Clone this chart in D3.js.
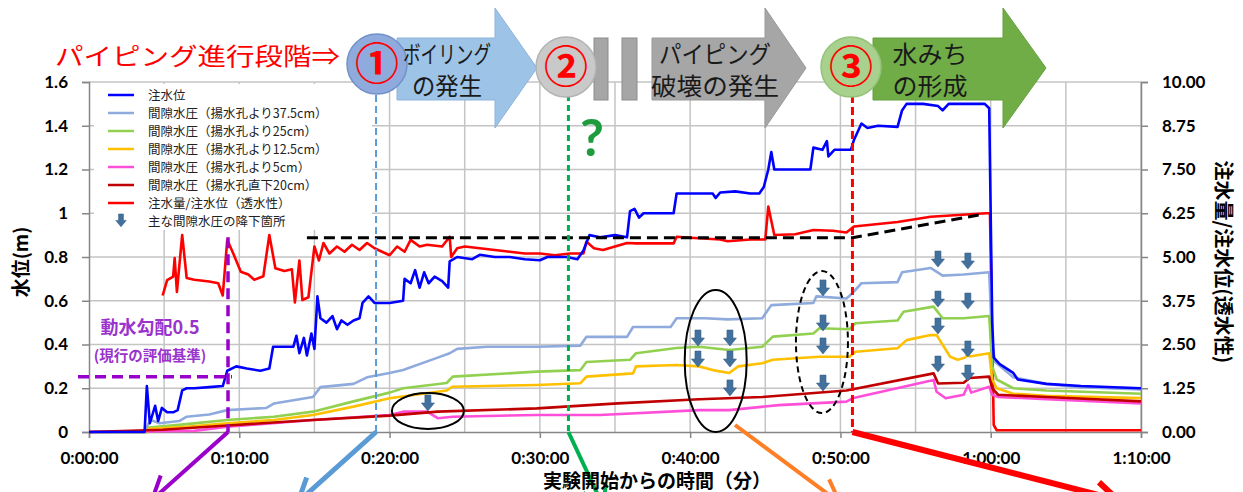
<!DOCTYPE html>
<html><head><meta charset="utf-8">
<script src="https://cdn.jsdelivr.net/npm/d3@7"></script>
<style>
body{margin:0;background:#fff;}
svg{display:block;}
.jp{font-family:"Noto Sans CJK JP","Noto Sans",sans-serif;}
.num{font-family:Lato,"Liberation Sans",sans-serif;font-weight:bold;}
</style></head>
<body><svg id="c" width="1243" height="492"></svg>
<script>
// ---- data (time in minutes, left axis values in m, red series on right axis) ----
const xTicks = [0,10,20,30,40,50,60,70];
const yLeftTicks = [0,0.2,0.4,0.6,0.8,1,1.2,1.4,1.6];
const yRightTicks = [0,1.25,2.5,3.75,5,6.25,7.5,8.75,10];

const legendLabels = ["注水位","間隙水圧（揚水孔より37.5cm）","間隙水圧（揚水孔より25cm）","間隙水圧（揚水孔より12.5cm）","間隙水圧（揚水孔より5cm）","間隙水圧（揚水孔直下20cm）","注水量/注水位（透水性）","主な間隙水圧の降下箇所"];
const seriesColors = ["#0000ff","#8faadc","#92d050","#ffc000","#ff4fd8","#c00000","#ff0000"];

const waterLevel = [[0,0],[3.7,0],[3.85,0.21],[4.05,0.04],[4.4,0.12],[4.6,0.05],[4.85,0.11],[5.2,0.09],[5.6,0.09],[5.9,0.1],[6.2,0.19],[6.5,0.2],[7,0.2],[8,0.205],[8.9,0.21],[9.2,0.28],[9.8,0.3],[10.5,0.29],[11.4,0.28],[12.0,0.29],[12.25,0.39],[13.0,0.39],[13.6,0.39],[13.8,0.44],[14.0,0.36],[14.3,0.43],[14.5,0.35],[14.8,0.45],[15.0,0.38],[15.2,0.62],[15.4,0.52],[15.8,0.5],[16.2,0.53],[16.5,0.47],[16.8,0.51],[17.2,0.49],[17.6,0.51],[18.0,0.52],[18.2,0.59],[18.6,0.62],[19.0,0.59],[20.0,0.59],[20.9,0.6],[21.0,0.7],[21.4,0.68],[21.7,0.74],[22.0,0.66],[22.3,0.73],[22.6,0.68],[23.0,0.71],[23.5,0.69],[23.9,0.66],[24.0,0.78],[24.5,0.8],[25.5,0.79],[26,0.81],[27,0.8],[28,0.8],[29,0.79],[30,0.785],[30.5,0.8],[31.8,0.8],[32.5,0.79],[32.9,0.83],[33.3,0.9],[34,0.89],[35,0.9],[35.8,0.89],[36.0,1.01],[36.3,1.02],[36.6,0.98],[36.9,1.0],[38,1.0],[38.9,1.0],[39.1,1.09],[40,1.09],[41.5,1.09],[41.7,1.07],[42,1.095],[43,1.1],[44,1.09],[44.6,1.09],[44.9,1.12],[45.2,1.2],[45.4,1.28],[45.6,1.2],[46.5,1.2],[48.0,1.2],[48.2,1.3],[48.8,1.29],[49.1,1.33],[49.2,1.26],[49.6,1.29],[50.7,1.29],[50.9,1.335],[51.4,1.41],[51.8,1.39],[52.5,1.4],[53.8,1.395],[54.1,1.47],[54.4,1.5],[55.5,1.5],[56.5,1.49],[56.8,1.47],[57.2,1.5],[58.5,1.5],[59.6,1.5],[59.9,1.48],[60.1,0.5],[60.2,0.34],[60.6,0.31],[61.5,0.27],[61.8,0.24],[63.7,0.22],[66,0.21],[70,0.2]];
const pore375 = [[0,0],[3.8,0],[3.9,0.03],[4.1,0.055],[4.7,0.04],[6.0,0.05],[6.5,0.07],[8,0.08],[9.2,0.1],[11.8,0.11],[12.3,0.13],[14.9,0.16],[15.4,0.205],[17.6,0.22],[18.5,0.25],[20,0.27],[20.9,0.283],[23.2,0.34],[24,0.36],[24.5,0.38],[26.5,0.39],[29.8,0.39],[32.7,0.395],[33.1,0.435],[35.8,0.435],[36.2,0.48],[38.7,0.48],[39.1,0.52],[41,0.52],[42.5,0.515],[44.8,0.52],[45.4,0.58],[48.2,0.59],[48.4,0.62],[50.4,0.61],[50.8,0.635],[51.4,0.68],[53.8,0.685],[54.1,0.73],[56,0.75],[56.8,0.715],[58.2,0.72],[59.9,0.73],[60.1,0.4],[60.3,0.32],[61.5,0.25],[63.7,0.22],[66,0.205],[70,0.195]];
const pore25 = [[0,0],[3.9,0],[4.0,0.02],[6.5,0.036],[9.2,0.055],[12.3,0.07],[14.9,0.093],[17.6,0.14],[20,0.18],[20.9,0.2],[23.8,0.224],[24.2,0.253],[29.8,0.276],[32.7,0.283],[33.1,0.32],[36,0.33],[36.4,0.36],[39.1,0.384],[40.6,0.39],[42.6,0.375],[44.8,0.39],[45.5,0.436],[48.2,0.45],[48.6,0.474],[50.6,0.47],[51,0.497],[53.8,0.51],[54.2,0.55],[56.2,0.573],[56.8,0.52],[58.2,0.52],[59.9,0.53],[60.1,0.3],[60.4,0.24],[61.5,0.2],[63.7,0.19],[70,0.175]];
const pore125 = [[0,0],[3.9,0],[4.0,0.015],[6.5,0.024],[9.2,0.04],[12.3,0.055],[14.9,0.078],[17.6,0.116],[20,0.154],[23.8,0.19],[24.2,0.207],[29.8,0.215],[32.7,0.223],[33.1,0.253],[36.2,0.268],[36.4,0.3],[39.1,0.306],[40.6,0.3],[41.5,0.283],[42.6,0.27],[43.2,0.3],[44.8,0.314],[45.5,0.33],[48.6,0.344],[50.6,0.344],[51,0.367],[53.8,0.383],[54.4,0.42],[56,0.443],[56.4,0.443],[57.3,0.344],[57.8,0.33],[58.3,0.34],[58.5,0.36],[58.6,0.345],[59.9,0.36],[60.1,0.24],[60.4,0.2],[61.5,0.175],[63.7,0.165],[70,0.155]];
const pore5 = [[0,0],[7,0.005],[9.2,0.024],[14.9,0.055],[20,0.078],[20.9,0.093],[22.5,0.093],[23.2,0.063],[24.2,0.07],[29.8,0.078],[34,0.078],[40.6,0.1],[42.6,0.1],[45.9,0.123],[50.4,0.139],[50.8,0.154],[56.2,0.238],[56.4,0.184],[57.0,0.154],[58.2,0.17],[58.5,0.215],[58.7,0.18],[59.9,0.207],[60.1,0.17],[60.5,0.16],[63.7,0.15],[70,0.13]];
const poreBelow20 = [[0,0],[4.9,0.01],[9.2,0.03],[14.9,0.055],[20,0.075],[23.2,0.093],[29.8,0.108],[35.2,0.131],[40.6,0.15],[44.8,0.16],[50.4,0.19],[56.2,0.268],[56.5,0.222],[58.2,0.225],[58.6,0.247],[59.9,0.253],[60.1,0.2],[60.5,0.17],[63.7,0.16],[70,0.14]];
const permeability = [[4.9,3.9],[5.2,4.34],[5.6,4.44],[5.7,4.97],[5.85,4.0],[6.2,5.63],[6.5,4.4],[7,4.35],[8,4.3],[8.6,4.25],[8.9,3.9],[9.2,5.49],[9.6,5.1],[10.1,4.58],[10.6,4.5],[11.0,4.35],[11.6,4.45],[12.0,5.63],[12.4,4.68],[13.0,4.6],[13.5,4.65],[13.7,3.7],[14.0,4.9],[14.2,3.77],[14.6,3.85],[15.0,5.3],[15.3,4.9],[15.6,5.4],[16,5.1],[16.5,5.3],[17,5.15],[17.5,5.35],[18,5.2],[18.5,5.4],[19,5.25],[19.5,5.15],[20,5.05],[20.5,5.3],[21,5.15],[21.4,5.49],[22,5.3],[22.5,5.35],[23.5,5.3],[24,5.58],[24.1,5.0],[24.5,5.25],[25,5.3],[26,5.25],[27,5.2],[28,5.15],[29,5.1],[30,5.1],[31,5.05],[32,5.1],[32.9,5.1],[33.1,5.44],[33.6,5.25],[34.2,5.2],[35,5.3],[35.8,5.4],[36.4,5.39],[38,5.39],[38.9,5.39],[39.1,5.58],[40,5.55],[42,5.5],[42.5,5.45],[44,5.5],[45.0,5.5],[45.2,6.44],[45.6,5.63],[47,5.65],[48.2,5.77],[49.5,5.75],[50.4,5.7],[50.9,5.87],[53.8,6.0],[56,6.15],[59.7,6.25],[59.95,6.25],[60.2,0.2],[60.4,0.05],[70,0.05]];
const baselineTrend = [[14.5,5.55],[50.8,5.55],[59.2,6.2]];   // black dashed (right axis)
const dropMarks = [[22.55,0.096],[40.52,0.393],[42.65,0.393],[40.52,0.297],[42.65,0.297],[42.65,0.165],[48.84,0.622],[48.84,0.462],[48.84,0.357],[48.84,0.187],[56.49,0.754],[58.48,0.745],[56.49,0.571],[58.48,0.562],[56.49,0.448],[58.48,0.343],[56.49,0.274],[58.48,0.233]];
const stageTimes = [9.25, 19.1, 31.9, 50.8];   // purple, blue, green, red vertical markers
const gradientLevel = 0.253;   // hydraulic gradient 0.5 level

// ---- layout ----
const L=89, R=1141, T=82, B=432;
const svg = d3.select("#c");
const x = d3.scaleLinear().domain([0,70]).range([L,R]);
const y = d3.scaleLinear().domain([0,1.6]).range([B,T]);
const y2 = d3.scaleLinear().domain([0,10]).range([B,T]);
const fmtTime = m => `${Math.floor(m/60)}:${String(m%60).padStart(2,"0")}:00`;

// grid
const grid = svg.append("g").attr("stroke","#c4c4c4").attr("stroke-width",1.5);
d3.range(5,71,5).forEach(m=>grid.append("line").attr("x1",x(m)).attr("x2",x(m)).attr("y1",T).attr("y2",B));
yLeftTicks.slice(1).forEach(v=>grid.append("line").attr("x1",L).attr("x2",R).attr("y1",y(v)).attr("y2",y(v)));

// axes
const axCol="#868686";
const gx = svg.append("g").attr("transform",`translate(0,${B})`).call(d3.axisBottom(x).tickValues(xTicks).tickFormat(fmtTime).tickSize(6).tickPadding(14));
const gl = svg.append("g").attr("transform",`translate(${L},0)`).call(d3.axisLeft(y).tickValues(yLeftTicks).tickFormat(d=>d3.format("~g")(d)).tickSize(7).tickPadding(14));
const gr = svg.append("g").attr("transform",`translate(${R},0)`).call(d3.axisRight(y2).tickValues(yRightTicks).tickFormat(d3.format(".2f")).tickSize(7).tickPadding(14));
[gx,gl,gr].forEach(g=>{
  g.select(".domain").attr("stroke",axCol).attr("stroke-width",1.5);
  g.selectAll(".tick line").attr("stroke",axCol).attr("stroke-width",1.5);
  g.selectAll("text").attr("class","num").attr("font-size",17).attr("fill","#000");
});

// legend box (drawn before lines, hides grid)
const lg = svg.append("g");
lg.append("rect").attr("x",94).attr("y",84).attr("width",278).attr("height",146).attr("fill","#fff");

// series
const line = d3.line().x(d=>x(d[0])).y(d=>y(d[1]));
const line2 = d3.line().x(d=>x(d[0])).y(d=>y2(d[1]));
const leftSeries = [waterLevel,pore375,pore25,pore125,pore5,poreBelow20];
const drawOrder = [1,2,3,4,5,0];
svg.append("path").datum(permeability).attr("d",line2).attr("fill","none").attr("stroke",seriesColors[6]).attr("stroke-width",2.6).attr("stroke-linejoin","round");
drawOrder.forEach(i=>{
  svg.append("path").datum(leftSeries[i]).attr("d",line).attr("fill","none").attr("stroke",seriesColors[i]).attr("stroke-width",2.6).attr("stroke-linejoin","round");
});
svg.append("path").datum(baselineTrend).attr("d",line2).attr("fill","none").attr("stroke","#000").attr("stroke-width",3).attr("stroke-dasharray","11,6");

// legend content
legendLabels.forEach((t,i)=>{
  const yy = 95 + i*18;
  if(i<7){
    lg.append("line").attr("x1",108).attr("x2",134).attr("y1",yy).attr("y2",yy).attr("stroke",seriesColors[i]).attr("stroke-width",2.5);
  } else {
    drawDrop(lg, 121, yy-7, 0.8);
  }
  lg.append("text").attr("class","jp").attr("x",148).attr("y",yy+4.5).attr("font-size",12.5).attr("fill","#222").text(t);
});

function drawDrop(g, cx, top, s){
  const w=6.5*s, sw=3*s, h1=8*s, h=16*s;
  g.append("path").attr("d",`M${cx-sw},${top} L${cx+sw},${top} L${cx+sw},${top+h1} L${cx+w},${top+h1} L${cx},${top+h} L${cx-w},${top+h1} L${cx-sw},${top+h1} Z`)
    .attr("fill","#41719c").attr("stroke","#35608a").attr("stroke-width",0.6);
}
dropMarks.forEach(d=>drawDrop(svg, x(d[0]), y(d[1])-16, 1));

// ellipses
const ell = svg.append("g").attr("fill","none").attr("stroke","#000").attr("stroke-width",2);
ell.append("ellipse").attr("cx",x(22.55)).attr("cy",y(0.096)).attr("rx",36).attr("ry",18);
ell.append("ellipse").attr("cx",x(41.7)).attr("cy",y(0.325)).attr("rx",31).attr("ry",71);
ell.append("ellipse").attr("cx",x(48.77)).attr("cy",y(0.411)).attr("rx",26).attr("ry",71).attr("stroke-dasharray","6,4");

// stage markers
const stageCols = ["#9900cc","#5b9bd5","#00b050","#ff0000"];
const stageTop = [y(0.89), 95, 95, 95];
const stageW = [3.5,2,3,3];
const stageDash = ["11,6","7,4","6,4","8,4"];
stageTimes.forEach((t,i)=>{
  svg.append("line").attr("x1",x(t)).attr("x2",x(t)).attr("y1",stageTop[i]).attr("y2",B)
    .attr("stroke",stageCols[i]).attr("stroke-width",stageW[i]).attr("stroke-dasharray",stageDash[i]);
});
svg.append("line").attr("x1",78).attr("x2",x(stageTimes[0])+4).attr("y1",y(gradientLevel)).attr("y2",y(gradientLevel))
  .attr("stroke","#9900cc").attr("stroke-width",3.5).attr("stroke-dasharray","11,6");
svg.append("text").attr("class","jp").attr("x",150).attr("y",334).attr("text-anchor","middle").attr("font-size",18).attr("font-weight","bold").attr("fill","#9933cc").text("動水勾配0.5");
svg.append("text").attr("class","jp").attr("x",150).attr("y",361).attr("text-anchor","middle").attr("font-size",14.5).attr("font-weight","bold").attr("fill","#9933cc").text("(現行の評価基準)");

// arrows out of the chart bottom
function outArrow(x1,y1,x2,y2,col,w){
  svg.append("line").attr("x1",x1).attr("y1",y1).attr("x2",x2).attr("y2",y2).attr("stroke",col).attr("stroke-width",w).attr("stroke-linecap","butt");
  const a=Math.atan2(y2-y1,x2-x1), hl=26, sp=0.5;
  const p1=[x2-hl*Math.cos(a-sp), y2-hl*Math.sin(a-sp)], p2=[x2-hl*Math.cos(a+sp), y2-hl*Math.sin(a+sp)];
  svg.append("path").attr("d",`M${p1} L${x2},${y2} L${p2}`).attr("fill","none").attr("stroke",col).attr("stroke-width",w).attr("stroke-linejoin","miter");
}
outArrow(x(stageTimes[0]),B,152,500,"#9900cc",4);
outArrow(x(stageTimes[1]),B,298,502,"#5b9bd5",5);
outArrow(x(stageTimes[2]),B,604,508,"#00b050",4);
outArrow(735,425,840,503,"#ff7f27",4);
outArrow(x(stageTimes[3]),B,1118,500,"#ff0000",6);

// top banner
const ban = svg.append("g");
function blockArrow(x0,x1,x2,fill,stroke){
  ban.append("path").attr("d",`M${x0},38 L${x1},38 L${x1},8 L${x2},68 L${x1},128 L${x1},100 L${x0},100 Z`).attr("fill",fill).attr("stroke",stroke).attr("stroke-width",1);
}
blockArrow(397,495,537,"#9dc3e6","#8db3da");
blockArrow(652,765,806,"#a6a6a6","#999");
blockArrow(873,1003,1046,"#70ad47","#63a03c");
ban.append("rect").attr("x",594).attr("y",38).attr("width",14).attr("height",62).attr("fill","#a6a6a6").attr("stroke","#8c8c8c");
ban.append("rect").attr("x",622).attr("y",38).attr("width",15).attr("height",62).attr("fill","#a6a6a6").attr("stroke","#8c8c8c");
const circ=[[377,64,"#8faadc","#7391c9","①"],[566,67,"#c9c9c9","#b3b3b3","②"],[851,67,"#a9d18e","#94c278","③"]];
circ.forEach(c=>{
  ban.append("circle").attr("cx",c[0]).attr("cy",c[1]).attr("r",30).attr("fill",c[2]).attr("stroke",c[3]).attr("stroke-width",1.5);
  ban.append("text").attr("class","jp").attr("x",c[0]).attr("y",c[1]+16).attr("text-anchor","middle").attr("font-size",44).attr("font-weight","bold").attr("fill","#ff0000").text(c[4]);
});
const banText=[[447,"ボイリング","の発生",88,70],[715,"パイピング","破壊の発生",112,128],[930,"水みち","の形成",75,75]];
banText.forEach(b=>{
  ban.append("text").attr("class","jp").attr("x",b[0]).attr("y",63).attr("text-anchor","middle").attr("font-size",24).attr("fill","#1a1a1a").attr("textLength",b[3]).attr("lengthAdjust","spacingAndGlyphs").text(b[1]);
  ban.append("text").attr("class","jp").attr("x",b[0]).attr("y",95).attr("text-anchor","middle").attr("font-size",24).attr("fill","#1a1a1a").attr("textLength",b[4]).attr("lengthAdjust","spacingAndGlyphs").text(b[2]);
});
svg.append("text").attr("class","jp").attr("x",55).attr("y",65).attr("font-size",24).attr("fill","#ff0000").attr("textLength",285).attr("lengthAdjust","spacingAndGlyphs").text("パイピング進行段階⇒");
svg.append("text").attr("x",592).attr("y",156).attr("text-anchor","middle").attr("font-family","Lato,'Liberation Sans',sans-serif").attr("font-weight","bold").attr("font-size",52).attr("fill","#1e9b3c").text("?");

// axis titles
svg.append("text").attr("class","jp").attr("transform","translate(28,262) rotate(-90)").attr("text-anchor","middle").attr("font-size",19).attr("font-weight","bold").text("水位(m)");
svg.append("text").attr("class","jp").attr("transform","translate(1216,262) rotate(90)").attr("text-anchor","middle").attr("font-size",20).attr("font-weight","bold").text("注水量/注水位(透水性)");
svg.append("text").attr("class","jp").attr("x",657).attr("y",488).attr("text-anchor","middle").attr("font-size",19).attr("font-weight","bold").text("実験開始からの時間（分）");
</script></body></html>
